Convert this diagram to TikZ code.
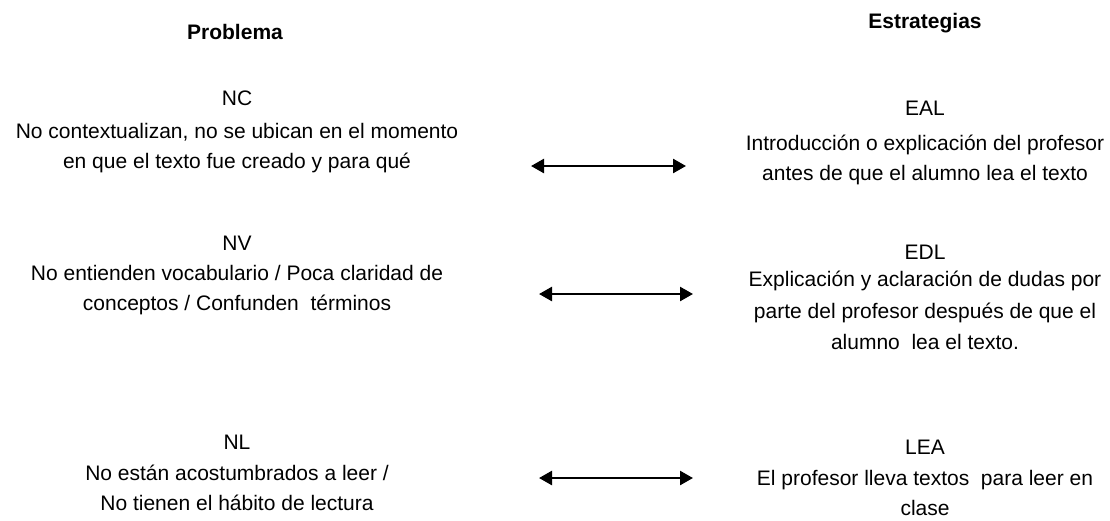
\documentclass[tikz,border=0pt]{standalone}
\usepackage{fontspec}
\setmainfont{Liberation Sans}
\usetikzlibrary{arrows.meta}
\tikzset{
  head/.style={font=\bfseries\fontsize{21}{25}\selectfont, inner sep=0pt, anchor=center},
  tag/.style={font=\fontsize{21}{30}\selectfont, inner sep=0pt, anchor=center},
  body/.style={font=\fontsize{21}{30}\selectfont, inner sep=0pt, align=center, anchor=north},
  link/.style={line width=2.5pt, {Triangle[length=13pt,width=14pt]}-{Triangle[length=13pt,width=14pt]}}
}
\begin{document}
\begin{tikzpicture}[x=1pt,y=-1pt]
\useasboundingbox (0,0) rectangle (1110,520);
\node[head] (hp) at (235,32) {Problema};
\node[head] (he) at (925,23) {Estrategias};
% row 1
\node[tag] (nc) at (237,98) {NC};
\node[body] (ncb) at (237,131-13.5) {\strut No contextualizan, no se ubican en el momento\\en que el texto fue creado y para qué};
\node[tag] (eal) at (925,108) {EAL};
\node[body] (ealb) at (925,143-13.5) {\strut Introducción o explicación del profesor\\antes de que el alumno lea el texto};
\coordinate (a1l) at (531,166);
\coordinate (a1r) at (686,166);
\draw[link] (a1l) -- (a1r);
% row 2
\node[tag] (nv) at (237,243) {NV};
\node[body] (nvb) at (237,273-13.5) {\strut No entienden vocabulario / Poca claridad de\\conceptos / Confunden\ \ términos};
\node[tag] (edl) at (925,252) {EDL};
\node[body, font=\fontsize{21}{31.5}\selectfont] (edlb) at (925,279-14.5) {\strut Explicación y aclaración de dudas por\\parte del profesor después de que el\\alumno\ \ lea el texto.};
\coordinate (a2l) at (539,294);
\coordinate (a2r) at (693,294);
\draw[link] (a2l) -- (a2r);
% row 3
\node[tag] (nl) at (237,442) {NL};
\node[body] (nlb) at (237,473-13.5) {\strut No están acostumbrados a leer /\\No tienen el hábito de lectura};
\node[tag] (lea) at (925,447) {LEA};
\node[body] (leab) at (925,478-13.5) {\strut El profesor lleva textos\ \ para leer en\\clase};
\coordinate (a3l) at (539,478);
\coordinate (a3r) at (693,478);
\draw[link] (a3l) -- (a3r);
\end{tikzpicture}
\end{document}
